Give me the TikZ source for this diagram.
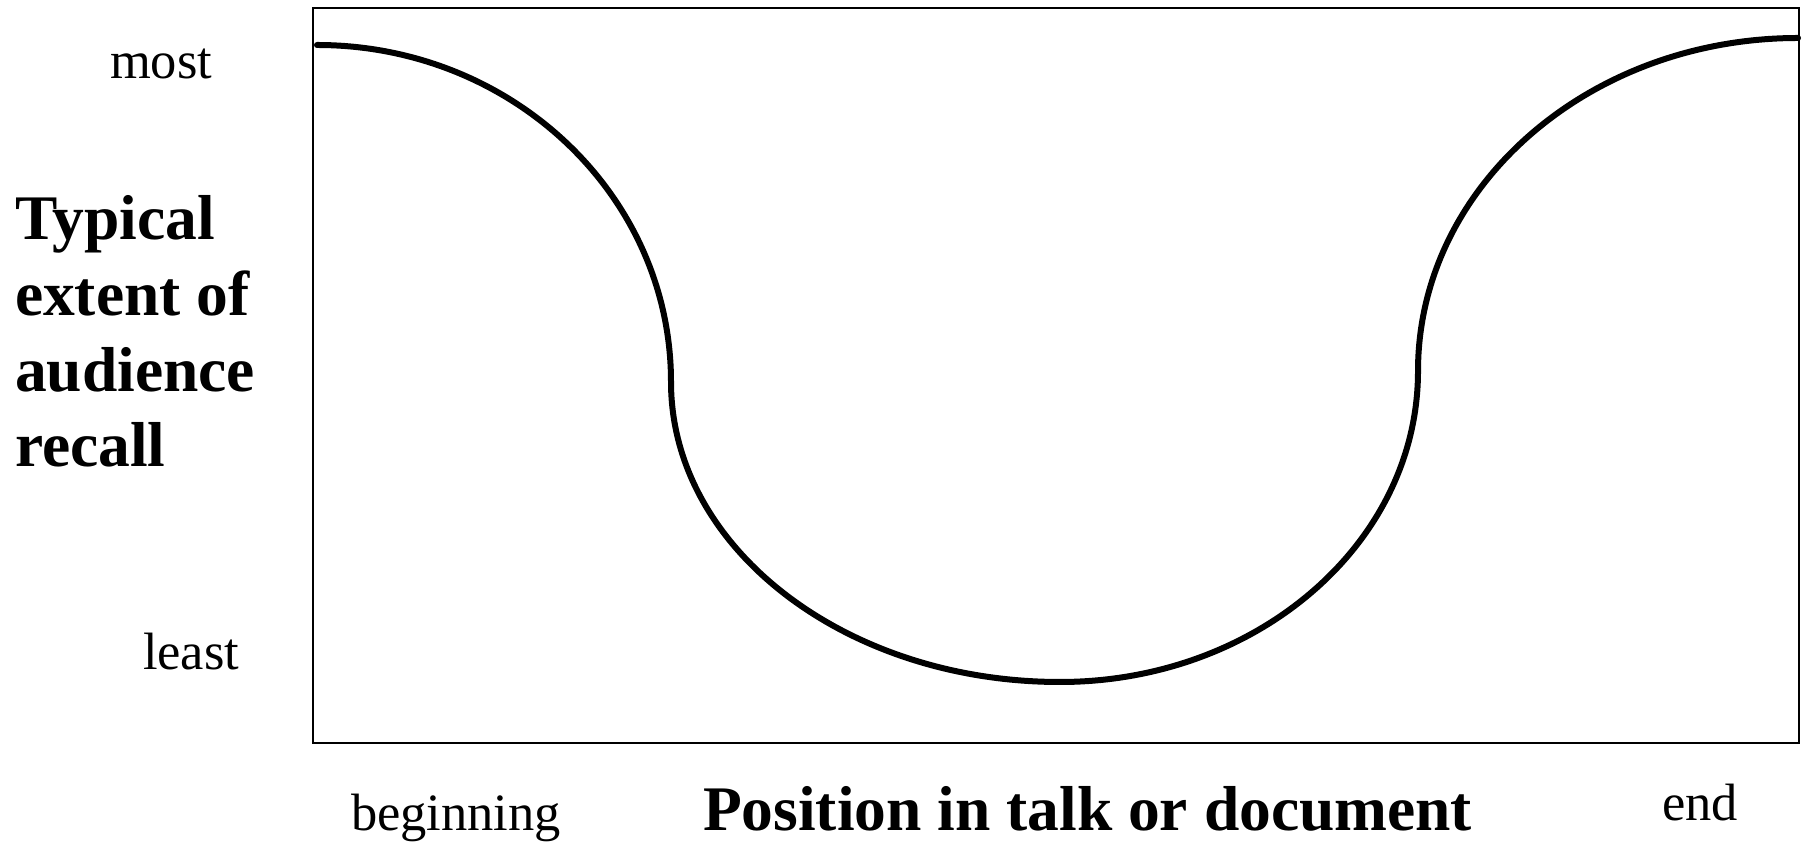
\documentclass[tikz,border=0pt]{standalone}
\usepackage{fontspec}
\setmainfont{Liberation Serif}
\begin{document}
\begin{tikzpicture}[x=1pt,y=1pt,
  lbl/.style={inner sep=0pt,outer sep=0pt,font=\fontsize{52.5}{60}\selectfont},
  title/.style={inner sep=0pt,outer sep=0pt,font=\fontsize{63.5}{75.7}\selectfont\bfseries},
  frame/.style={draw=black,line width=2pt},
  recall/.style={draw=black,line width=6pt,line cap=round}]
\useasboundingbox (0,0) rectangle (1806,842);

% plotting frame
\draw[frame] (313,99) rectangle (1799,834);

% recall curve: high at both ends, dipping in the middle
\coordinate (c0) at (317,797);
\draw[recall] (c0)
  arc[start angle=90,end angle=0,x radius=354,y radius=337]
  arc[start angle=180,end angle=270,x radius=389,y radius=300]
  arc[start angle=270,end angle=360,x radius=358,y radius=311]
  arc[start angle=180,end angle=90,x radius=380,y radius=333];

% axis labels
\node[lbl,anchor=base west] (most) at (110,763) {most};
\node[lbl,anchor=base west] (least) at (143,172) {least};
\node[lbl,anchor=base west] (beg) at (351,11) {beginning};
\node[lbl,anchor=base west] (fin) at (1662,21) {end};
\node[title,anchor=base west] (xlab) at (703,11) {Position in talk or document};
% multi-line node: its base anchor sits on the last line
\node[title,anchor=base west,align=left] (ylab) at (15,375)
  {Typical\\extent of\\audience\\recall};
\end{tikzpicture}
\end{document}
